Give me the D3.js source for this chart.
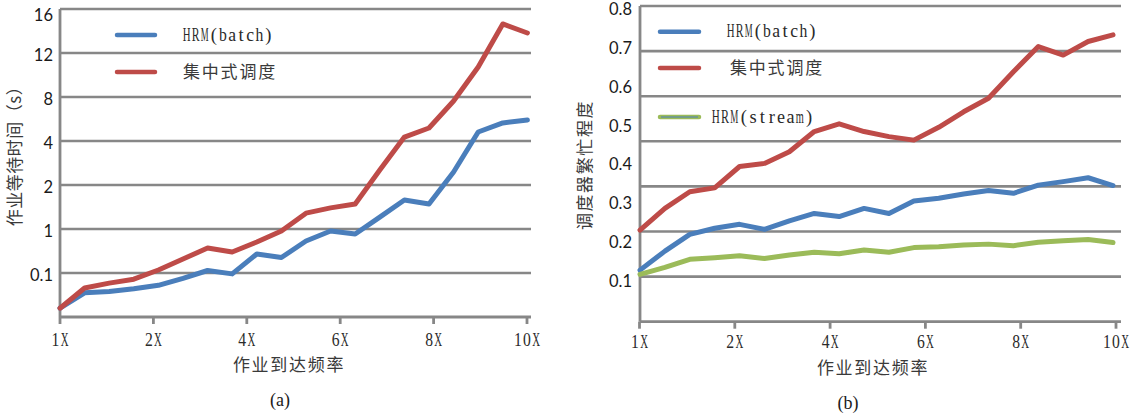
<!DOCTYPE html>
<html>
<head>
<meta charset="utf-8">
<script src="https://cdn.jsdelivr.net/npm/d3@7"></script>
<style>
  html, body { margin: 0; padding: 0; background: #fff; }
  svg { display: block; }
  .num  { font-family: Lato, "Open Sans", sans-serif; font-size: 16.5px; fill: #1a1a1a; }
  .mono { font-family: "Liberation Serif", serif; font-size: 18.5px; fill: #2a2a2a; }
  .cjk  { font-family: "Noto Sans CJK SC", sans-serif; fill: #3a3a3a; }
  .cap  { font-family: "Liberation Serif", serif; font-size: 18px; fill: #1a1a1a; }
</style>
</head>
<body>
<svg id="chart" width="1143" height="415"></svg>
<script>
// ---- data ------------------------------------------------------------
const freqLabels = ["1X", "2X", "4X", "6X", "8X", "10X"];

// (a) job waiting time (s), 20 samples along the arrival-rate axis
const waitTicks = [0.1, 1, 2, 4, 8, 12, 16];
const waitBatch = [0.020, 0.055, 0.058, 0.064, 0.072, 0.088, 0.151, 0.098, 0.489, 0.417,
                   0.755, 0.959, 0.898, 1.27, 1.66, 1.57, 2.59, 4.82, 5.64, 5.91];
const waitCentral = [0.020, 0.066, 0.077, 0.086, 0.161, 0.386, 0.611, 0.530, 0.734, 0.959,
                     1.36, 1.48, 1.57, 2.68, 4.36, 5.18, 7.64, 10.73, 14.64, 13.82];

// (b) scheduler busy degree
const busyTicks = [0.1, 0.2, 0.3, 0.4, 0.5, 0.6, 0.7, 0.8];
const busyBatch = [0.128, 0.177, 0.220, 0.236, 0.246, 0.233, 0.255, 0.274, 0.266, 0.287,
                   0.274, 0.306, 0.313, 0.324, 0.333, 0.326, 0.347, 0.356, 0.366, 0.346];
const busyCentral = [0.231, 0.287, 0.330, 0.340, 0.395, 0.403, 0.433, 0.485, 0.505, 0.485,
                     0.472, 0.463, 0.496, 0.536, 0.571, 0.639, 0.704, 0.682, 0.717, 0.734];
const busyStream = [0.117, 0.135, 0.156, 0.160, 0.165, 0.158, 0.167, 0.174, 0.170, 0.180,
                    0.174, 0.186, 0.188, 0.193, 0.195, 0.191, 0.200, 0.204, 0.207, 0.199];

const seriesNames = ["HRM(batch)", "集中式调度", "HRM(stream)"];
const colors = { batch: "#4a7ebb", central: "#be4b48", stream: "#9bbb59" };
const gridColor = "#878787";

const svg = d3.select("#chart");

// latin text laid out on a fixed half-width grid, one glyph per cell;
// glyphs wider than the cell are squeezed to fit
function mono(g, str, x, y, anchor = "start", cell = 9.1) {
  const n = str.length;
  const x0 = anchor === "middle" ? x - n * cell / 2 : x;
  const t = g.append("text").attr("class", "mono")
    .attr("y", y).attr("dy", "0.35em").attr("text-anchor", "middle");
  t.selectAll("tspan").data(str.split("")).join("tspan")
    .attr("x", (c, i) => x0 + (i + 0.5) * cell)
    .text(c => c)
    .each(function () {
      const w = this.getComputedTextLength();
      const max = cell * 0.86;
      if (w > max) {
        d3.select(this).attr("textLength", max).attr("lengthAdjust", "spacingAndGlyphs");
      }
    });
  return t;
}

function cjk(g, str, x, y, size, spacing, anchor = "middle") {
  return g.append("text").attr("class", "cjk")
    .attr("x", x).attr("y", y).attr("dy", "0.35em")
    .attr("text-anchor", anchor)
    .style("font-size", size + "px")
    .style("letter-spacing", spacing + "px")
    .text(str);
}

function drawSeries(g, values, x, y, color) {
  const line = d3.line().x((d, i) => x(i)).y(d => y(d));
  g.append("path").datum(values)
    .attr("d", line)
    .attr("fill", "none")
    .attr("stroke", color)
    .attr("stroke-width", 5)
    .attr("stroke-linejoin", "round")
    .attr("stroke-linecap", "round");
}

function legendLine(g, x0, x1, y, color) {
  g.append("line").attr("x1", x0).attr("x2", x1).attr("y1", y).attr("y2", y)
    .attr("stroke", color).attr("stroke-width", 4.5).attr("stroke-linecap", "round");
}

function xAxis(g, xTick, left, right, bottom, labelY) {
  g.append("line").attr("x1", left).attr("x2", right).attr("y1", bottom).attr("y2", bottom)
    .attr("stroke", gridColor).attr("stroke-width", 2.8);
  g.selectAll(".xt").data(freqLabels).join("line")
    .attr("x1", d => xTick(d)).attr("x2", d => xTick(d))
    .attr("y1", bottom).attr("y2", bottom + 7)
    .attr("stroke", gridColor).attr("stroke-width", 2.8);
  freqLabels.forEach(d => mono(g, d, xTick(d), labelY, "middle"));
}

// ---- (a) job waiting time -------------------------------------------
{
  const g = svg.append("g");
  const left = 60, right = 531, top = 9, bottom = 317;
  const domain = [0].concat(waitTicks);
  const step = (bottom - top) / (domain.length - 1);
  const y = d3.scaleLinear().domain(domain).range(domain.map((d, i) => bottom - i * step));
  const x = d3.scaleLinear().domain([0, waitBatch.length - 1]).range([left, 527.4]);
  const xTick = d3.scalePoint().domain(freqLabels).range([left, 527]);

  g.selectAll(".grid").data(waitTicks).join("line")
    .attr("x1", left).attr("x2", right)
    .attr("y1", d => y(d)).attr("y2", d => y(d))
    .attr("stroke", gridColor).attr("stroke-width", 2.6);

  g.append("line").attr("x1", left).attr("x2", left).attr("y1", top).attr("y2", bottom)
    .attr("stroke", gridColor).attr("stroke-width", 2.8);
  xAxis(g, xTick, left, right, bottom, 340);

  g.selectAll(".yl").data(waitTicks).join("text")
    .attr("class", "num")
    .attr("x", 53).attr("y", d => Math.max(y(d) + 2, 15)).attr("dy", "0.35em")
    .attr("text-anchor", "end")
    .text(d => d);

  drawSeries(g, waitBatch, x, y, colors.batch);
  drawSeries(g, waitCentral, x, y, colors.central);

  legendLine(g, 117, 155, 35, colors.batch);
  mono(g, seriesNames[0], 182, 35);
  legendLine(g, 117, 155, 72, colors.central);
  cjk(g, seriesNames[1], 183, 72, 17, 1.8, "start");

  cjk(g, "作业等待时间（s）", 0, 0, 17, 0.5)
    .attr("transform", "translate(15,152) rotate(-90)");
  cjk(g, "作业到达频率", 289, 365, 17, 1.7);
  g.append("text").attr("class", "cap").attr("x", 280).attr("y", 400)
    .attr("dy", "0.35em").attr("text-anchor", "middle").text("(a)");
}

// ---- (b) scheduler busy degree --------------------------------------
{
  const g = svg.append("g");
  const left = 640, right = 1121, top = 6, bottom = 321.7;
  const y = d3.scaleLinear().domain([0.1, 0.8]).range([281, 9.3]);
  const x = d3.scaleLinear().domain([0, busyBatch.length - 1]).range([left, 1113]);
  const xTick = d3.scalePoint().domain(freqLabels).range([639.5, 1116]);
  const gridY = d3.scaleLinear().domain([0, busyTicks.length - 1]).range([bottom, top]);

  g.selectAll(".grid").data(d3.range(1, busyTicks.length)).join("line")
    .attr("x1", left).attr("x2", right)
    .attr("y1", d => gridY(d)).attr("y2", d => gridY(d))
    .attr("stroke", gridColor).attr("stroke-width", 2.6);

  g.append("line").attr("x1", left).attr("x2", left).attr("y1", top).attr("y2", bottom)
    .attr("stroke", gridColor).attr("stroke-width", 2.8);
  xAxis(g, xTick, left, right, bottom, 342);

  g.selectAll(".yl").data(busyTicks).join("text")
    .attr("class", "num")
    .attr("x", 632).attr("y", d => y(d)).attr("dy", "0.35em")
    .attr("text-anchor", "end")
    .text(d => d3.format(".1f")(d));

  drawSeries(g, busyBatch, x, y, colors.batch);
  drawSeries(g, busyCentral, x, y, colors.central);
  drawSeries(g, busyStream, x, y, colors.stream);

  legendLine(g, 660, 699, 31.7, colors.batch);
  mono(g, seriesNames[0], 726, 31);
  legendLine(g, 660, 699, 68, colors.central);
  cjk(g, seriesNames[1], 730, 68, 17, 1.8, "start");
  legendLine(g, 660, 699, 117, colors.stream);
  g.append("line").attr("x1", 661).attr("x2", 698).attr("y1", 117).attr("y2", 117)
    .attr("stroke", colors.batch).attr("stroke-width", 1);
  mono(g, seriesNames[2], 711, 117, "start", 9.35);

  cjk(g, "调度器繁忙程度", 0, 0, 17, 1.6)
    .attr("transform", "translate(585,165) rotate(-90)");
  cjk(g, "作业到达频率", 873, 368, 17, 1.7);
  g.append("text").attr("class", "cap").attr("x", 848).attr("y", 403)
    .attr("dy", "0.35em").attr("text-anchor", "middle").text("(b)");
}
</script>
</body>
</html>
